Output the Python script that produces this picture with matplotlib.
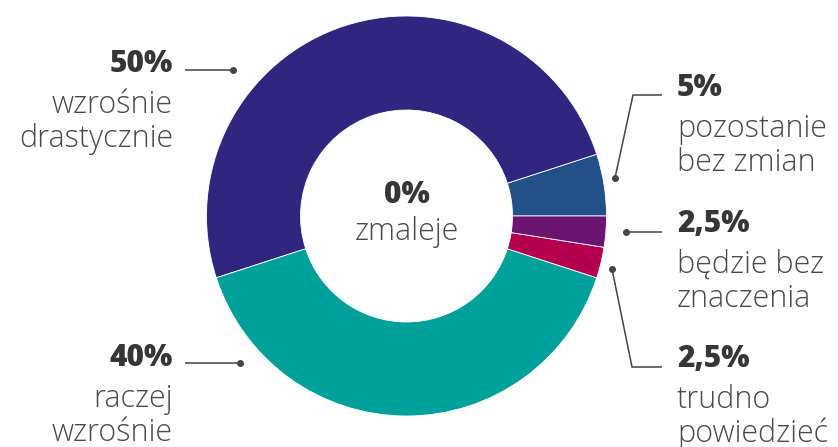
import matplotlib
matplotlib.use("Agg")
import matplotlib.pyplot as plt

# Data
categories = [["pozostanie", "bez zmian"], ["wzrośnie", "drastycznie"], ["raczej", "wzrośnie"],
              ["trudno", "powiedzieć"], ["będzie bez", "znaczenia"]]
values = [5, 50, 40, 2.5, 2.5]
pct_labels = ["5%", "50%", "40%", "2,5%", "2,5%"]
colors = ["#235089", "#31267f", "#00a19b", "#b4004e", "#6b1470"]
center_pct = "0%"
center_label = "zmaleje"

W, H = 838, 447
fig = plt.figure(figsize=(W / 100, H / 100), dpi=100)
ax = fig.add_axes([0, 0, 1, 1])

def Y(y):
    return H - y

cx, cy, R = 406.5, 216, 200
ax.pie(values, colors=colors, startangle=0, counterclock=True,
       center=(cx, Y(cy)), radius=R, frame=True,
       wedgeprops=dict(width=94, edgecolor="white", linewidth=0.6))
ax.set_xlim(0, W)
ax.set_ylim(0, H)
ax.axis("off")
ax.set_aspect("equal")

tc = "#363636"
lc = "#444444"
bold = dict(family="Open Sans", weight="heavy", size=21.5, color=tc)
light = dict(family="Open Sans", weight="light", size=22, color="#4a4a4a")

# center
ax.text(cx, Y(203), center_pct, ha="center", va="baseline", **bold)
ax.text(cx, Y(240), center_label, ha="center", va="baseline", **light)

def label(x, base, idx, ha):
    ax.text(x, Y(base), pct_labels[idx], ha=ha, va="baseline", **bold)
    ax.text(x, Y(base + 41), categories[idx][0], ha=ha, va="baseline", **light)
    ax.text(x, Y(base + 75), categories[idx][1], ha=ha, va="baseline", **light)

def leader(points):
    xs = [p[0] for p in points]
    ys = [Y(p[1]) for p in points]
    ax.plot(xs, ys, color=lc, lw=1.1, solid_capstyle="butt")
    ax.plot(xs[-1], ys[-1], "o", color=lc, ms=4)

# left labels
label(173, 72, 1, "right")
leader([(185, 70), (233, 70)])
label(173, 366, 2, "right")
leader([(185, 363), (240, 363)])

# right labels
label(677, 96, 0, "left")
leader([(662, 95), (633, 95), (615, 178)])
label(677, 232, 4, "left")
leader([(662, 232), (626, 232)])
label(677, 367, 3, "left")
leader([(662, 367), (632, 367), (612, 269)])

fig.savefig("out.png", dpi=100)
